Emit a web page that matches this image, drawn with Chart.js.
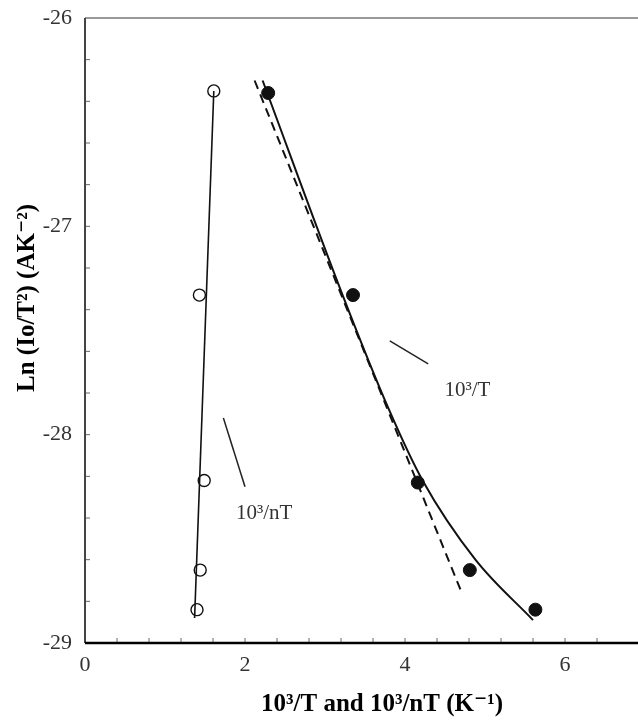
<!DOCTYPE html>
<html>
<head>
<meta charset="utf-8">
<script src="https://cdn.jsdelivr.net/npm/chart.js@4.4.0/dist/chart.umd.min.js"></script>
<style>
  html, body { margin: 0; padding: 0; background: #fff; overflow: hidden; }
  #wrap { width: 660px; height: 722px; }
</style>
</head>
<body>
<div id="wrap"><canvas id="myChart" width="660" height="722"></canvas></div>
<script>
// open circles: 10^3/nT
var openX = [1.61, 1.43, 1.49, 1.44, 1.40];
var openY = [-26.35, -27.33, -28.22, -28.65, -28.84];
// filled circles: 10^3/T
var fillX = [2.29, 3.35, 4.16, 4.81, 5.63];
var fillY = [-26.36, -27.33, -28.23, -28.65, -28.84];
// fitted lines
var nTLineX = [1.61, 1.37];
var nTLineY = [-26.35, -28.88];
var dashX = [2.12, 4.71];
var dashY = [-26.30, -28.76];
var curveX = [2.22, 3.22, 3.80, 4.22, 4.88, 5.60];
var curveY = [-26.30, -27.33, -27.88, -28.22, -28.60, -28.89];
// leader lines for the labels
var leadNT = [[1.73, -27.92], [2.00, -28.25]];
var leadT = [[3.81, -27.55], [4.29, -27.66]];
var xTickLabels = [0, 2, 4, 6];
var yTickLabels = [-29, -28, -27, -26];

function pts(xs, ys) {
    return xs.map(function (x, i) { return { x: x, y: ys[i] }; });
}
function pairPts(arr) {
    return arr.map(function (p) { return { x: p[0], y: p[1] }; });
}

var serif = "'Liberation Serif', 'DejaVu Serif', serif";

// inside tick marks, frame and texts
var extras = {
    id: 'extras',
    afterDraw: function (chart) {
        var ctx = chart.ctx;
        var xs = chart.scales.x, ys = chart.scales.y;
        var a = chart.chartArea;
        ctx.save();
        ctx.strokeStyle = '#666';
        ctx.lineWidth = 1;
        xs.ticks.forEach(function (t) {
            var px = xs.getPixelForValue(t.value);
            ctx.beginPath();
            ctx.moveTo(px, a.bottom);
            ctx.lineTo(px, a.bottom - 5);
            ctx.stroke();
        });
        ys.ticks.forEach(function (t) {
            var py = ys.getPixelForValue(t.value);
            ctx.beginPath();
            ctx.moveTo(a.left, py);
            ctx.lineTo(a.left + 5, py);
            ctx.stroke();
        });
        // frame: top gray, left and bottom dark
        ctx.lineWidth = 2;
        ctx.strokeStyle = '#999';
        ctx.beginPath();
        ctx.moveTo(a.left, a.top);
        ctx.lineTo(a.right, a.top);
        ctx.stroke();
        ctx.strokeStyle = '#444';
        ctx.beginPath();
        ctx.moveTo(a.left, a.top);
        ctx.lineTo(a.left, a.bottom);
        ctx.stroke();
        ctx.strokeStyle = '#000';
        ctx.lineWidth = 2.5;
        ctx.beginPath();
        ctx.moveTo(a.left, a.bottom);
        ctx.lineTo(a.right, a.bottom);
        ctx.stroke();

        // curve labels
        ctx.fillStyle = '#333';
        ctx.font = '21px ' + serif;
        ctx.textAlign = 'center';
        ctx.textBaseline = 'middle';
        ctx.fillText('10\u00B3/T', xs.getPixelForValue(4.78), ys.getPixelForValue(-27.79));
        ctx.fillText('10\u00B3/nT', xs.getPixelForValue(2.24), ys.getPixelForValue(-28.38));

        // axis titles
        ctx.fillStyle = '#000';
        ctx.font = 'bold 25px ' + serif;
        ctx.fillText('10\u00B3/T and 10\u00B3/nT (K\u207B\u00B9)', 382, 705);
        ctx.translate(28, 298);
        ctx.rotate(-Math.PI / 2);
        ctx.fillText('Ln (Io/T\u00B2) (AK\u207B\u00B2)', 0, 0);
        ctx.restore();
    }
};

var ctx = document.getElementById('myChart').getContext('2d');
var chart = new Chart(ctx, {
    type: 'scatter',
    data: {
        datasets: [
            {
                label: 'nT fit',
                data: pts(nTLineX, nTLineY),
                showLine: true,
                borderColor: '#111',
                borderWidth: 1.6,
                pointRadius: 0
            },
            {
                label: 'dashed fit',
                data: pts(dashX, dashY),
                showLine: true,
                borderColor: '#111',
                borderWidth: 2,
                borderDash: [9, 6],
                pointRadius: 0
            },
            {
                label: 'T curve',
                data: pts(curveX, curveY),
                showLine: true,
                borderColor: '#111',
                borderWidth: 2,
                tension: 0.4,
                cubicInterpolationMode: 'monotone',
                pointRadius: 0
            },
            {
                label: 'lead nT',
                data: pairPts(leadNT),
                showLine: true,
                borderColor: '#222',
                borderWidth: 1.5,
                pointRadius: 0
            },
            {
                label: 'lead T',
                data: pairPts(leadT),
                showLine: true,
                borderColor: '#222',
                borderWidth: 1.5,
                pointRadius: 0
            },
            {
                label: '10^3/nT',
                data: pts(openX, openY),
                pointRadius: 6,
                pointBackgroundColor: '#fff',
                pointBorderColor: '#111',
                pointBorderWidth: 1.4
            },
            {
                label: '10^3/T',
                data: pts(fillX, fillY),
                pointRadius: 6.5,
                pointBackgroundColor: '#111',
                pointBorderColor: '#111',
                pointBorderWidth: 1
            }
        ]
    },
    options: {
        responsive: false,
        animation: false,
        events: [],
        layout: { padding: { top: 18, right: 15, left: 0, bottom: 0 } },
        plugins: {
            legend: { display: false },
            tooltip: { enabled: false }
        },
        scales: {
            x: {
                type: 'linear',
                min: 0,
                max: 7,
                border: { display: false },
                grid: { display: false, drawTicks: false },
                afterFit: function (s) { s.height = 79; s.paddingLeft = 0; s.paddingRight = 0; },
                ticks: {
                    stepSize: 0.4,
                    autoSkip: false,
                    maxRotation: 0,
                    padding: 9,
                    color: '#333',
                    font: { family: serif, size: 22 },
                    callback: function (v) {
                        var k = v / 2;
                        if (Math.abs(k - Math.round(k)) < 1e-6 && xTickLabels.indexOf(Math.round(v)) >= 0) return String(Math.round(v));
                        return '';
                    }
                }
            },
            y: {
                type: 'linear',
                min: -29,
                max: -26,
                border: { display: false },
                grid: { display: false, drawTicks: false },
                afterFit: function (s) { s.width = 85; s.paddingTop = 0; s.paddingBottom = 0; },
                ticks: {
                    stepSize: 0.2,
                    autoSkip: false,
                    padding: 13,
                    color: '#333',
                    font: { family: serif, size: 22 },
                    callback: function (v) {
                        if (Math.abs(v - Math.round(v)) < 1e-6 && yTickLabels.indexOf(Math.round(v)) >= 0) return String(Math.round(v));
                        return '';
                    }
                }
            }
        }
    },
    plugins: [extras]
});
</script>
</body>
</html>
